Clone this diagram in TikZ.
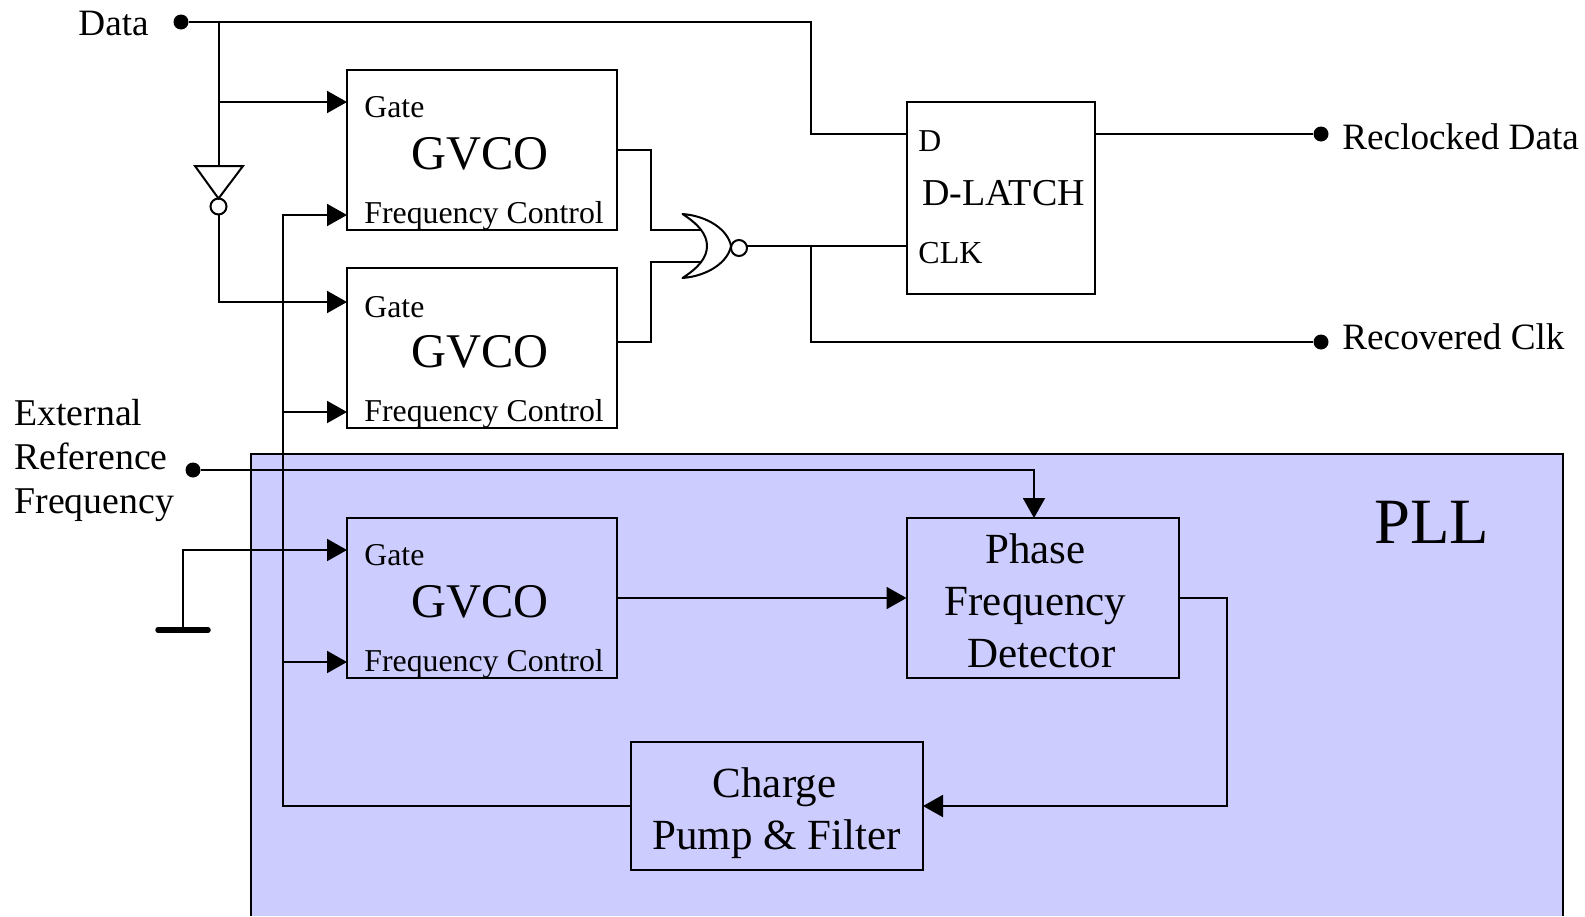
\documentclass[tikz,border=0pt]{standalone}
\usepackage{fontspec}
\setmainfont{Liberation Serif}
\usetikzlibrary{arrows.meta}
\definecolor{pllblue}{HTML}{CCCCFF}
\tikzset{
  wire/.style={line width=1pt,line join=miter},
  arrowwire/.style={wire,-{Triangle[length=10pt,width=11pt]}},
  blockbox/.style={draw,line width=1pt,inner sep=0pt,outer sep=0pt},
  dotnode/.style={circle,fill=black,inner sep=0pt,minimum size=7.5pt},
  bubble/.style={circle,draw,fill=white,line width=1pt,inner sep=0pt,minimum size=8pt,outer sep=0pt},
  lbl/.style={anchor=base west,inner sep=0pt,font=\fontsize{18.6}{20}\selectfont},
  extlbl/.style={anchor=base west,inner sep=0pt,font=\fontsize{18.9}{20}\selectfont},
  pin/.style={anchor=base west,inner sep=0pt,font=\fontsize{15.9}{18}\selectfont},
  gvco/.style={anchor=base,inner sep=0pt,font=\fontsize{24.2}{26}\selectfont},
  big/.style={anchor=base,inner sep=0pt,font=\fontsize{21.5}{23}\selectfont}
}
\begin{document}
\begin{tikzpicture}[x=0.5pt,y=-0.5pt]
\useasboundingbox (0,0) rectangle (1585,916);
% PLL region
\fill[pllblue] (250.5,454) rectangle (1563,916);
\draw[wire] (250.5,916) -- (250.5,454) -- (1563,454) -- (1563,916);
\node[lbl,font=\fontsize{32.3}{34}\selectfont] (plltxt) at (1374,543) {PLL};

% Blocks
\node[blockbox,fill=white,minimum width=135.25pt,minimum height=80pt] (gv1) at (482,150) {};
\node[blockbox,fill=white,minimum width=135.25pt,minimum height=80pt] (gv2) at (482,348) {};
\node[blockbox,minimum width=135.25pt,minimum height=80pt] (gv3) at (482,598) {};
\node[blockbox,fill=white,minimum width=94.25pt,minimum height=96pt] (latch) at (1000.75,198) {};
\node[blockbox,minimum width=136pt,minimum height=80pt] (pfd) at (1042.5,598) {};
\node[blockbox,minimum width=146pt,minimum height=64pt] (cpf) at (777,806) {};

% Block texts
\foreach \nm/\dg/\dy in {a/0/0,b/200/198,c/448/448}{
  \node[pin] (gate\nm) at (364,117+\dg) {Gate};
  \node[gvco] (name\nm) at (480,169+\dy) {GVCO};
  \node[pin] (freq\nm) at (364,223+\dy) {Frequency Control};
}
\node[pin] (dtxt) at (918,151) {D};
\node[lbl,font=\fontsize{19}{21}\selectfont] (ltxt) at (922,205) {D-LATCH};
\node[pin,font=\fontsize{16}{18}\selectfont] (ctxt) at (918,263) {CLK};
\node[big] (p1) at (1035.5,563) {Phase};
\node[big] (p2) at (1035.5,615.5) {Frequency};
\node[big] (p3) at (1041.5,667) {Detector};
\node[big] (c1) at (774.5,797.5) {Charge};
\node[big] (c2) at (776.5,849) {Pump \& Filter};

% External labels
\node[lbl] (datatxt) at (78,35) {Data};
\node[extlbl] (ext1) at (14,425.5) {External};
\node[extlbl] (ext2) at (14,469.5) {Reference};
\node[extlbl] (ext3) at (14,513.5) {Frequency};
\node[lbl] (rdtxt) at (1342,149) {Reclocked Data};
\node[lbl] (rctxt) at (1342,349) {Recovered Clk};

% Terminals
\node[dotnode] (dataT) at (181,22) {};
\node[dotnode] (extT) at (193,470) {};
\node[dotnode] (rdT) at (1321,134) {};
\node[dotnode] (rcT) at (1321,342) {};

% Named points
\coordinate (tapD) at (218.5,22);
\coordinate (tapG) at (218.5,102);
\coordinate (g1) at (347,102);
\coordinate (f1) at (347,215);
\coordinate (g2) at (347,302);
\coordinate (f2) at (347,412);
\coordinate (g3) at (347,550);
\coordinate (f3) at (347,662);
\coordinate (bus) at (282.5,215);
\coordinate (latchD) at (906.5,134);
\coordinate (latchC) at (906.5,246);
\coordinate (latchQ) at (1095,134);
\coordinate (tapC) at (810.5,246);
\coordinate (gv1o) at (617.5,150);
\coordinate (gv2o) at (617.5,342);
\coordinate (nin1) at (702,230);
\coordinate (nin2) at (702,262);
\coordinate (pfdI) at (906.5,598);
\coordinate (gv3o) at (617.5,598);
\coordinate (pfdO) at (1178.5,598);
\coordinate (pfdT) at (1034,518);
\coordinate (cpfR) at (923,806);
\coordinate (cpfL) at (631,806);
\coordinate (gndtop) at (182.5,550);
\coordinate (gnd) at (182.5,630);

% Data wiring
\draw[wire] (dataT) -- (tapD) -- (810.5,22) -- (810.5,134) -- (latchD);
\draw[arrowwire] (tapG) -- (g1);
\draw[wire] (tapD) -- (218.5,166);
\node[bubble] (invb) at (218.5,206.5) {};
\draw[wire,fill=white] (195,166) -- (243,166) -- (218.5,198.5) -- cycle;
\draw[arrowwire] (invb.south) -- (218.5,302) -- (g2);

% Frequency control bus
\draw[arrowwire] (cpfL) -- (282.5,806) -- (bus) -- (f1);
\draw[arrowwire] (bus |- f2) -- (f2);
\draw[arrowwire] (bus |- f3) -- (f3);

% NOR gate
\draw[wire] (gv1o) -- (650.5,150) -- (650.5,230) -- (nin1);
\draw[wire] (gv2o) -- (650.5,342) -- (650.5,262) -- (nin2);
\draw[wire,fill=white,line join=round] (682.5,214) .. controls (708,216) and (728,230) .. (731,246)
  .. controls (728,262) and (708,276) .. (682.5,278)
  .. controls (698,268) and (707,258) .. (707,246)
  .. controls (707,234) and (698,224) .. (682.5,214) -- cycle;
\node[bubble] (norb) at (739,248) {};
\draw[wire] (norb.east |- latchC) -- (latchC);
\draw[wire] (tapC) -- (810.5,342) -- (rcT);
\draw[wire] (latchQ) -- (rdT);

% PLL wiring
\draw[arrowwire] (extT) -- (pfdT |- extT) -- (pfdT);
\draw[arrowwire] (gv3o) -- (pfdI);
\draw[arrowwire] (pfdO) -- (1226.5,598) -- (1226.5,806) -- (cpfR);
\draw[arrowwire] (gnd) -- (gndtop) -- (g3);
\draw[line width=2.75pt,line cap=round] (158,630) -- (208,630);
\end{tikzpicture}
\end{document}
